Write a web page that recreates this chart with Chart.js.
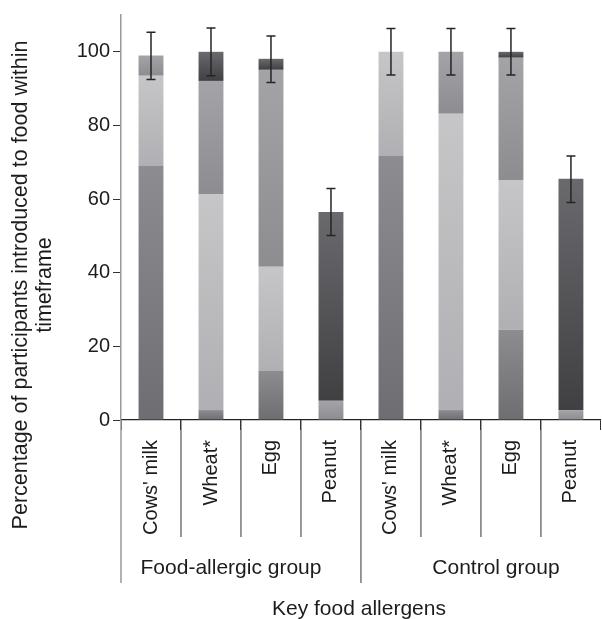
<!DOCTYPE html>
<html>
<head>
<meta charset="utf-8">
<script src="https://cdn.jsdelivr.net/npm/chart.js@4"></script>
<style>
  body { margin: 0; overflow: hidden; background: #fff; }
</style>
</head>
<body>
<canvas id="chartIntro" width="605" height="619" style="width:605px;height:619px"></canvas>
<script>
// Categorías y grupos
const foods = ["Cows' milk", 'Wheat*', 'Egg', 'Peanut', "Cows' milk", 'Wheat*', 'Egg', 'Peanut'];
const groups = ['Food-allergic group', 'Control group'];

// Segmentos apilados (% de participantes), de abajo hacia arriba
const firstPeriod = [69, 2.7, 13.3, 0, 71.7, 2.7, 24.5, 0];
const secondPeriod = [24.5, 58.7, 28.3, 0, 28.3, 80.5, 40.7, 0];
const thirdPeriod = [5.5, 30.7, 53.5, 5.2, 0, 16.8, 33.2, 2.7];
const fourthPeriod = [0, 7.9, 3.0, 51.3, 0, 0, 1.6, 62.8];

// Barras de error (centro y margen)
const errCenter = [98.9, 100, 98, 56.5, 100, 100, 100, 65.4];
const errMargin = [6.4, 6.5, 6.3, 6.4, 6.3, 6.3, 6.3, 6.3];

const yTicks = [0, 20, 40, 60, 80, 100];

const allSeries = [firstPeriod, secondPeriod, thirdPeriod, fourthPeriod];
const fontFamily = "'Liberation Sans', Arial, sans-serif";
const textColor = '#1c1c1c';

// Degradado vertical por segmento
const shade = (top, bottom) => (ctx) => {
    const chart = ctx.chart;
    if (ctx.type !== 'data' || !chart.scales.y) return bottom;
    const i = ctx.dataIndex;
    let start = 0;
    for (let k = 0; k < ctx.datasetIndex; k++) start += allSeries[k][i];
    const end = start + allSeries[ctx.datasetIndex][i];
    const y0 = chart.scales.y.getPixelForValue(end);
    const y1 = chart.scales.y.getPixelForValue(start);
    if (!Number.isFinite(y0) || !Number.isFinite(y1) || y1 - y0 < 1) return bottom;
    const g = chart.ctx.createLinearGradient(0, y0, 0, y1);
    g.addColorStop(0, top);
    g.addColorStop(1, bottom);
    return g;
};

const errorBars = {
    id: 'errorBars',
    afterDatasetsDraw(chart) {
        const { ctx, scales: { y } } = chart;
        const meta = chart.getDatasetMeta(0);
        ctx.save();
        ctx.strokeStyle = '#252525';
        ctx.lineWidth = 1.5;
        errCenter.forEach((c, i) => {
            const x = meta.data[i].x;
            const top = y.getPixelForValue(c + errMargin[i]);
            const bot = y.getPixelForValue(c - errMargin[i]);
            ctx.beginPath();
            ctx.moveTo(x, top); ctx.lineTo(x, bot);
            ctx.moveTo(x - 4.5, top); ctx.lineTo(x + 4.5, top);
            ctx.moveTo(x - 4.5, bot); ctx.lineTo(x + 4.5, bot);
            ctx.stroke();
        });
        ctx.restore();
    }
};

const groupAxis = {
    id: 'groupAxis',
    afterDraw(chart) {
        const { ctx, chartArea, scales: { x } } = chart;
        const half = (x.getPixelForValue(1) - x.getPixelForValue(0)) / 2;
        const perGroup = foods.length / groups.length;
        ctx.save();
        // separadores
        for (let i = 0; i < foods.length; i++) {
            const bx = x.getPixelForValue(i) - half;
            const major = i % perGroup === 0;
            ctx.strokeStyle = i === 0 ? '#999' : '#333';
            ctx.lineWidth = i === 0 ? 1.5 : 1;
            ctx.beginPath();
            ctx.moveTo(bx, chartArea.bottom);
            ctx.lineTo(bx, chartArea.bottom + (major ? 163 : 117));
            ctx.stroke();
        }
        // etiquetas de grupo
        ctx.fillStyle = textColor;
        ctx.font = `21px ${fontFamily}`;
        ctx.textAlign = 'center';
        ctx.textBaseline = 'middle';
        const shift = [-10, 15];
        groups.forEach((g, k) => {
            const a = x.getPixelForValue(k * perGroup) - half;
            const b = x.getPixelForValue((k + 1) * perGroup - 1) + half;
            ctx.fillText(g, (a + b) / 2 + shift[k], chartArea.bottom + 148);
        });
        // título eje x
        ctx.fillText('Key food allergens', (chartArea.left + chartArea.right) / 2 - 2, chartArea.bottom + 189);
        // título eje y
        ctx.save();
        ctx.font = `21.5px ${fontFamily}`;
        ctx.translate(0, 285);
        ctx.rotate(-Math.PI / 2);
        ctx.fillText('Percentage of participants introduced to food within', 0, 21);
        ctx.fillText('timeframe', 0, 45);
        ctx.restore();
        ctx.restore();
    }
};

const datasetStyles = [
    ['#8d8d91', '#6e6e72'],
    ['#c6c6c8', '#b0b0b4'],
    ['#a4a4a8', '#8d8d91'],
    ['#6a6a6e', '#404043']
];

new Chart(document.getElementById('chartIntro'), {
    type: 'bar',
    data: {
        labels: foods,
        datasets: allSeries.map((s, k) => ({
            data: s,
            backgroundColor: shade(datasetStyles[k][0], datasetStyles[k][1]),
            borderWidth: 0,
            barPercentage: 0.415,
            categoryPercentage: 1
        }))
    },
    options: {
        responsive: false,
        animation: false,
        layout: { padding: { top: 15, right: 1, left: 0, bottom: 0 } },
        plugins: {
            legend: { display: false },
            tooltip: { enabled: false }
        },
        scales: {
            x: {
                stacked: true,
                grid: { drawOnChartArea: false, offset: true, tickLength: 10, color: '#333' },
                border: { color: '#222', width: 1.3 },
                ticks: {
                    minRotation: 90, maxRotation: 90, padding: 10,
                    color: textColor, font: { family: fontFamily, size: 20 }
                },
                afterFit: (s) => { s.height = 199; }
            },
            y: {
                stacked: true,
                min: 0,
                max: 110,
                afterBuildTicks: (s) => { s.ticks = yTicks.map(v => ({ value: v })); },
                grid: { drawOnChartArea: false, tickLength: 8, color: '#333' },
                border: { color: '#999', width: 1.5 },
                ticks: { padding: 3, color: textColor, font: { family: fontFamily, size: 20 } },
                afterFit: (s) => { s.width = 121; }
            }
        }
    },
    plugins: [errorBars, groupAxis]
});
</script>
</body>
</html>
